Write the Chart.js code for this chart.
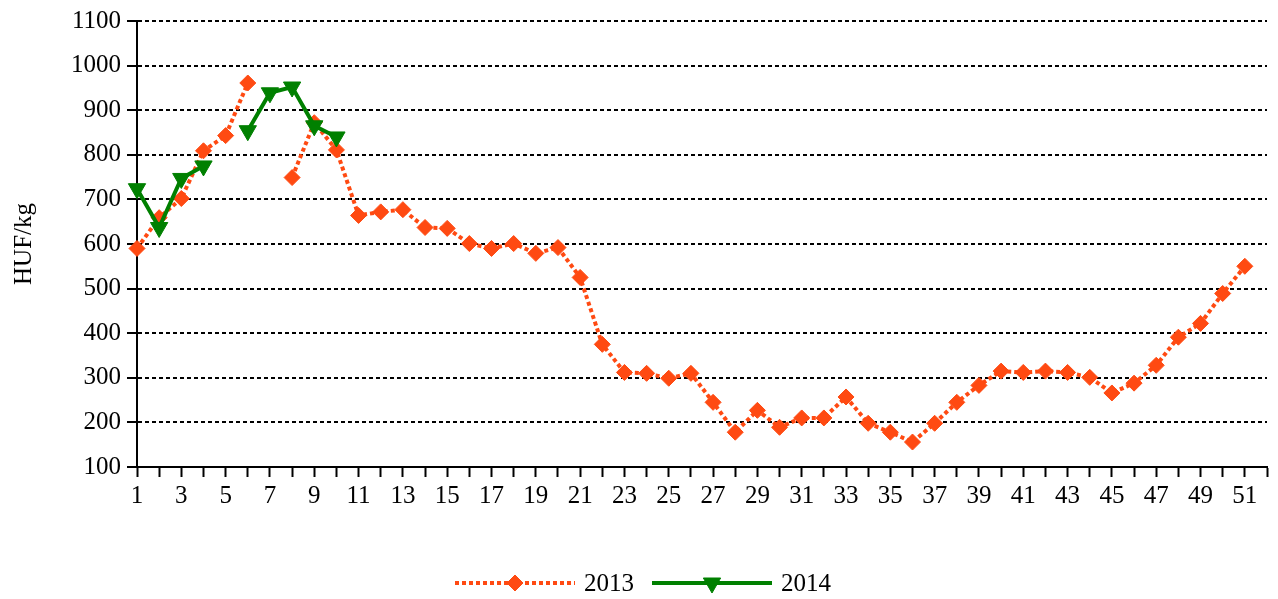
<!DOCTYPE html>
<html>
<head>
<meta charset="utf-8">
<script src="https://cdn.jsdelivr.net/npm/chart.js@4.4.0/dist/chart.umd.min.js"></script>
<style>
  body { margin: 0; background: #fff; }
  #wrap { width: 1278px; height: 599px; position: relative; }
</style>
</head>
<body>
<div id="wrap"><canvas id="chart"></canvas></div>
<script>
// weeks 1..52
const weeks = [];
for (let w = 1; w <= 52; w++) weeks.push(String(w));

const prices2013 = [590, 659, 702, 809, 843, 961, null, 749, 872, 811,
  664, 672, 677, 637, 635, 601, 590, 601, 579, 592,
  525, 375, 312, 310, 299, 310, 245, 178, 227, 189,
  210, 210, 257, 198, 178, 156, 198, 245, 283, 315,
  312, 315, 312, 301, 266, 288, 328, 391, 422, 489,
  550, null];
const prices2014 = [724, 637, 747, 775, null, 854, 939, 952, 865, 840];

const seriesNames = ['2013', '2014'];
const yTicks = [100, 200, 300, 400, 500, 600, 700, 800, 900, 1000, 1100];

const ORANGE = '#ff4a12';
const GREEN = '#008000';
const FONT = "'Liberation Serif', 'Times New Roman', serif";
const FSIZE = 25;

// legend drawn as line sample + marker, like the original
const lineLegend = {
  id: 'lineLegend',
  afterDraw(chart) {
    const ctx = chart.ctx;
    const y = 583;
    const sampleW = 120, gapText = 9, gapItem = 18;
    ctx.save();
    ctx.font = FSIZE + 'px ' + FONT;
    const items = chart.data.datasets.map(ds => ({ ds, tw: ctx.measureText(ds.label).width }));
    let total = 0;
    items.forEach((it, i) => { total += sampleW + gapText + it.tw + (i ? gapItem : 0); });
    let x = (chart.width - total) / 2 + 4;
    items.forEach((it, i) => {
      if (i) x += gapItem;
      const ds = it.ds;
      ctx.save();
      ctx.strokeStyle = ds.borderColor;
      ctx.lineWidth = ds.borderWidth;
      ctx.setLineDash(ds.borderDash || []);
      ctx.beginPath();
      ctx.moveTo(x, y);
      ctx.lineTo(x + sampleW, y);
      ctx.stroke();
      ctx.restore();
      ctx.fillStyle = ds.borderColor;
      ctx.strokeStyle = ds.borderColor;
      ctx.lineWidth = 1;
      ctx.setLineDash([]);
      Chart.helpers.drawPoint(ctx, {
        pointStyle: ds.pointStyle,
        radius: ds.pointRadius,
        rotation: ds.pointRotation || 0,
        borderWidth: 1
      }, x + sampleW / 2, y);
      x += sampleW + gapText;
      ctx.fillStyle = '#000';
      ctx.font = FSIZE + 'px ' + FONT;
      ctx.textBaseline = 'middle';
      ctx.textAlign = 'left';
      ctx.fillText(ds.label, x, y + 1);
      x += it.tw;
    });
    ctx.restore();
  }
};

new Chart(document.getElementById('chart'), {
  type: 'line',
  data: {
    labels: weeks,
    datasets: [
      {
        label: seriesNames[0],
        data: prices2013,
        order: 2,
        borderColor: ORANGE,
        backgroundColor: ORANGE,
        borderWidth: 4,
        borderDash: [4, 3],
        pointStyle: 'rectRot',
        pointRadius: 8,
        pointBorderWidth: 1,
        pointBackgroundColor: ORANGE,
        pointBorderColor: ORANGE,
        spanGaps: false,
        tension: 0,
        clip: false
      },
      {
        label: seriesNames[1],
        data: prices2014,
        order: 1,
        borderColor: GREEN,
        backgroundColor: GREEN,
        borderWidth: 4,
        pointStyle: 'triangle',
        pointRotation: 180,
        pointRadius: 10,
        pointBorderWidth: 1,
        pointBackgroundColor: GREEN,
        pointBorderColor: GREEN,
        spanGaps: false,
        tension: 0,
        clip: false
      }
    ]
  },
  options: {
    responsive: true,
    maintainAspectRatio: false,
    animation: false,
    devicePixelRatio: 1,
    layout: { padding: { top: 20, right: 8, left: 0, bottom: 0 } },
    plugins: {
      legend: { display: false },
      tooltip: { enabled: false }
    },
    scales: {
      x: {
        offset: false,
        grid: {
          display: true,
          drawOnChartArea: false,
          drawTicks: true,
          tickLength: 10,
          tickWidth: 2,
          tickColor: '#000'
        },
        border: { display: true, color: '#000', width: 2 },
        ticks: {
          autoSkip: false,
          maxRotation: 0,
          padding: 4,
          color: '#000',
          font: { family: FONT, size: FSIZE },
          callback: function (val, i) { return i % 2 === 0 ? this.getLabelForValue(val) : ''; }
        },
        afterFit(scale) { scale.height = 132; }
      },
      y: {
        min: yTicks[0],
        max: yTicks[yTicks.length - 1],
        afterBuildTicks(scale) { scale.ticks = yTicks.map(v => ({ value: v })); },
        grid: {
          color: '#000',
          lineWidth: 2,
          drawTicks: true,
          tickLength: 10,
          tickWidth: 2,
          tickColor: '#000'
        },
        border: { display: true, color: '#000', width: 2, dash: [4, 3] },
        ticks: {
          padding: 6,
          color: '#000',
          font: { family: FONT, size: FSIZE },
          callback: v => String(v)
        },
        title: {
          display: true,
          text: 'HUF/kg',
          color: '#000',
          font: { family: FONT, size: FSIZE },
          padding: { top: 9, bottom: 0 }
        },
        afterFit(scale) { scale.width = 137; }
      }
    }
  },
  plugins: [lineLegend]
});
</script>
</body>
</html>
